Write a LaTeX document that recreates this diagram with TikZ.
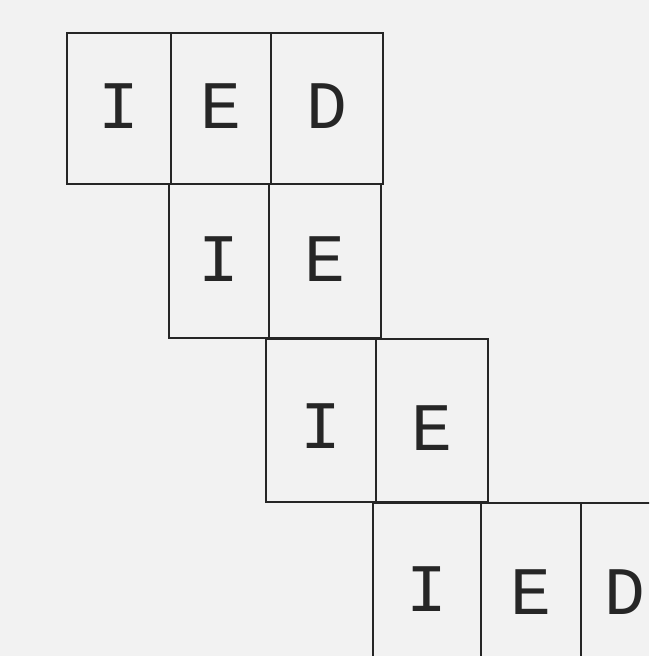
\documentclass[tikz,border=0pt]{standalone}
\usepackage{fontspec}
\setmonofont{Liberation Mono}
\begin{document}
\begin{tikzpicture}[x=1pt,y=-1pt,
  cell/.style={draw=black!85, line width=2pt, inner sep=0pt, anchor=north west,
    font=\ttfamily\fontsize{68}{68}\selectfont, text=black!85,
    text height=40pt, text depth=0pt}]
\useasboundingbox (0,0) rectangle (649,656);
\fill[black!5!white] (0,0) rectangle (649,656);
\clip (0,0) rectangle (649,656);
% row 1
\node[cell, minimum width=104pt, minimum height=151pt] (a1) at (66,32) {I};
\node[cell, minimum width=100pt, minimum height=151pt] (a2) at (170,32) {E};
\node[cell, minimum width=112pt, minimum height=151pt] (a3) at (270,32) {D};
% row 2
\node[cell, minimum width=100pt, minimum height=154pt] (b1) at (168,183) {I};
\node[cell, minimum width=112pt, minimum height=154pt] (b2) at (268,183) {E};
% row 3
\node[cell, minimum width=110pt, minimum height=163pt, text height=56pt] (c1) at (265,338) {I};
\node[cell, minimum width=112pt, minimum height=163pt, text height=60pt] (c2) at (375,338) {E};
% row 4
\node[cell, minimum width=108pt, minimum height=170pt, text height=46pt] (d1) at (372,502) {I};
\node[cell, minimum width=100pt, minimum height=170pt, text height=52pt] (d2) at (480,502) {E};
\node[cell, minimum width=110pt, minimum height=170pt, text height=52pt] (d3) at (580,502) {\hspace*{-22pt}D};
\end{tikzpicture}
\end{document}
